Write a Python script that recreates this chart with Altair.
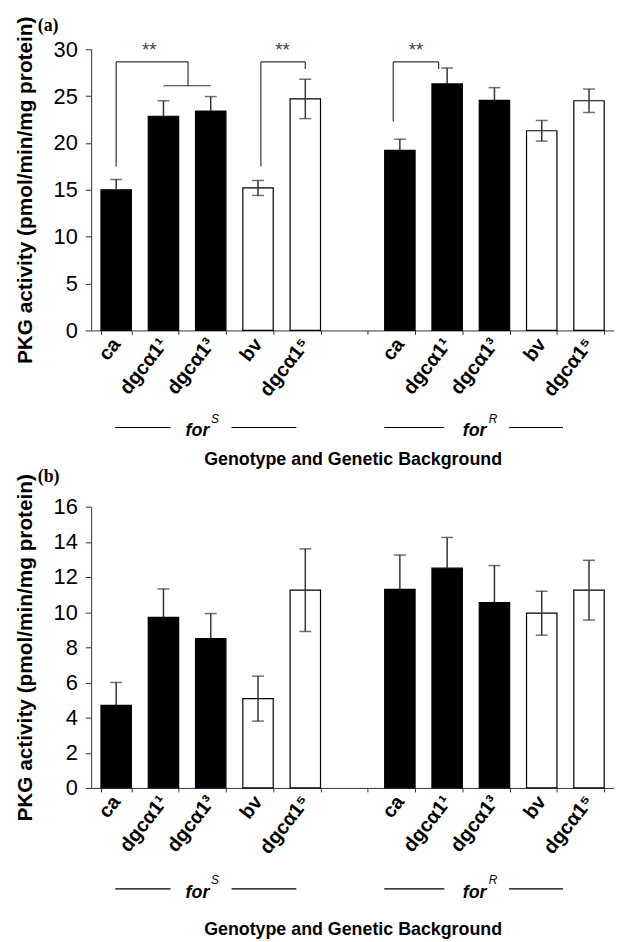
import altair as alt
import pandas as pd

# ---------------- data ----------------
genotypes = ["ca", "dgcα1¹", "dgcα1³", "bv", "dgcα1⁵"]
bar_fill = ["black", "black", "black", "white", "white"]
backgrounds = ["S", "R"]

# panel (a)
a_S_mean = [15.0, 22.85, 23.4, 15.2, 24.7]
a_S_err = [1.1, 1.65, 1.55, 0.8, 2.1]
a_R_mean = [19.2, 26.3, 24.55, 21.3, 24.5]
a_R_err = [1.2, 1.7, 1.35, 1.1, 1.25]

# panel (b)
b_S_mean = [4.7, 9.7, 8.5, 5.08, 11.25]
b_S_err = [1.3, 1.62, 1.42, 1.28, 2.35]
b_R_mean = [11.3, 12.5, 10.55, 9.94, 11.25]
b_R_err = [1.95, 1.75, 2.1, 1.25, 1.7]

y_title = "PKG activity (pmol/min/mg protein)"
x_title = "Genotype and Genetic Background"
a_ticks = [0, 5, 10, 15, 20, 25, 30]
b_ticks = [0, 2, 4, 6, 8, 10, 12, 14, 16]

# significance brackets of panel (a), in slot units
# (left, right, left foot, top, right foot, star position, sub-bar from, sub-bar to)
brackets = [
    (0.0, 1.52, 17.5, 28.65, 26.1, 0.70, 1.0, 2.0),
    (3.06, 4.0, 17.5, 28.65, 27.9, 3.52, None, None),
    (5.86, 6.82, 22.3, 28.65, 27.9, 6.34, None, None),
]
# background group labels: (text, sup, line1, line2, text pos, sup pos)
groups = [
    ("for", "S", (-0.02, 1.15), (2.44, 3.81), 1.72, 2.09),
    ("for", "R", (5.67, 6.94), (8.31, 9.45), 7.58, 7.97),
]

# ---------------- layout constants ----------------
W, H = 528, 284
PI, PO = 0.357, 0.207
slots = [g + "|S" for g in genotypes] + ["|gap"] + [g + "|R" for g in genotypes]
N = len(slots)
STEP = W / (N - PI + 2 * PO)
FONT = "Liberation Sans"


def slot(f):
    k = min(max(int(round(f)), 0), N - 1)
    return slots[k], (f - k) * STEP


def make_df(means_S, errs_S, means_R, errs_R):
    rows = []
    for bg, means, errs in (("S", means_S, errs_S), ("R", means_R, errs_R)):
        for g, m, e, f in zip(genotypes, means, errs, bar_fill):
            rows.append(dict(slot=g + "|" + bg, mean=m, hi=m + e,
                             lo=(m - e) if f == "white" else m, fill=f))
    return pd.DataFrame(rows)


def panel(df, ymax, ticks, label, with_brackets, title_y, group_y, title_offset):
    xscale = alt.Scale(domain=slots, paddingInner=PI, paddingOuter=PO)
    xaxis = alt.Axis(
        labelExpr="isValid(datum.value) ? split(datum.value, '|')[0] : ''",
        labelAngle=-52,
        labelAlign="right", labelBaseline="middle", labelFont=FONT,
        labelFontSize=20, labelFontWeight="bold", labelColor="black",
        labelPadding=6, tickBand="extent", tickSize=4, tickColor="#333",
        domainColor="#333", titleFont=FONT, titleFontSize=18,
        titleFontWeight="bold", titleColor="black", titleY=title_y,
        titleBaseline="alphabetic", labelOverlap=False,
    )
    yscale = alt.Scale(domain=[0, ymax], nice=False)
    yaxis = alt.Axis(
        values=ticks, grid=False, tickSize=6, tickColor="#333",
        domainColor="#333", labelFont=FONT, labelFontSize=22,
        labelColor="black", labelPadding=8, titleFont=FONT,
        titleFontSize=21, titleFontWeight="bold", titleColor="black",
        titlePadding=18,
    )

    def X(field="slot"):
        return alt.X(field, type="nominal", scale=xscale, axis=xaxis,
                     title=x_title)

    def Y(field):
        return alt.Y(field, type="quantitative", scale=yscale, axis=yaxis,
                     title=y_title)

    bars = alt.Chart(df).mark_bar(stroke="black", strokeWidth=1.2).encode(
        x=X(), y=Y("mean"), color=alt.Color("fill:N", scale=None))
    stems = alt.Chart(df).mark_rule(color="#333", strokeWidth=1.5).encode(
        x=X(), y=Y("hi"), y2="lo")
    caps_hi = alt.Chart(df).mark_tick(color="#333", size=12, thickness=1.5).encode(
        x=X(), y=Y("hi"))
    caps_lo = alt.Chart(df[df["fill"] == "white"]).mark_tick(
        color="#333", size=12, thickness=1.5).encode(x=X(), y=Y("lo"))
    layers = [bars, stems, caps_hi, caps_lo]

    if with_brackets:
        for (l, r, yl, yt, yr, sx, s0, s1) in brackets:
            kl, ol = slot(l)
            kr, orr = slot(r)
            layers.append(alt.Chart(pd.DataFrame([dict(slot=kl, a=yl, b=yt)]))
                          .mark_rule(color="#333", strokeWidth=1.2, xOffset=ol)
                          .encode(x=X(), y=Y("a"), y2="b"))
            layers.append(alt.Chart(pd.DataFrame([dict(slot=kr, a=yr, b=yt)]))
                          .mark_rule(color="#333", strokeWidth=1.2, xOffset=orr)
                          .encode(x=X(), y=Y("a"), y2="b"))
            layers.append(alt.Chart(pd.DataFrame([dict(slot=kl, slot2=kr, a=yt)]))
                          .mark_rule(color="#333", strokeWidth=1.2, xOffset=ol,
                                     x2Offset=orr)
                          .encode(x=X(), x2="slot2", y=Y("a")))
            if s0 is not None:
                k0, o0 = slot(s0)
                k1, o1 = slot(s1)
                layers.append(alt.Chart(pd.DataFrame([dict(slot=k0, slot2=k1, a=yr)]))
                              .mark_rule(color="#333", strokeWidth=1.2, xOffset=o0,
                                         x2Offset=o1)
                              .encode(x=X(), x2="slot2", y=Y("a")))
            ks, os_ = slot(sx)
            layers.append(alt.Chart(pd.DataFrame([dict(slot=ks, a=yt + 0.6, t="**")]))
                          .mark_text(font=FONT, fontSize=19, color="#444",
                                     baseline="alphabetic", xOffset=os_)
                          .encode(x=X(), y=Y("a"), text="t:N"))

    for (txt, sup, line1, line2, tpos, spos) in groups:
        for (p0, p1) in (line1, line2):
            k0, o0 = slot(p0)
            k1, o1 = slot(p1)
            layers.append(alt.Chart(pd.DataFrame([dict(slot=k0, slot2=k1)]))
                          .mark_rule(color="black", strokeWidth=1.2, xOffset=o0,
                                     x2Offset=o1)
                          .encode(x=X(), x2="slot2", y=alt.value(group_y)))
        kt, ot = slot(tpos)
        layers.append(alt.Chart(pd.DataFrame([dict(slot=kt, t=txt)]))
                      .mark_text(font=FONT, fontSize=18, fontWeight="bold",
                                 fontStyle="italic", color="black",
                                 baseline="alphabetic", xOffset=ot)
                      .encode(x=X(), y=alt.value(group_y + 9), text="t:N"))
        ks, os_ = slot(spos)
        layers.append(alt.Chart(pd.DataFrame([dict(slot=ks, t=sup)]))
                      .mark_text(font=FONT, fontSize=12, fontStyle="italic",
                                 color="black", baseline="alphabetic", xOffset=os_)
                      .encode(x=X(), y=alt.value(group_y - 5), text="t:N"))

    return alt.layer(*layers).properties(
        width=W, height=H,
        title=alt.TitleParams(label, anchor="start", frame="group",
                              font="Liberation Serif", fontSize=18,
                              fontWeight="bold", color="black", dx=-54,
                              offset=title_offset),
    )


top = panel(make_df(a_S_mean, a_S_err, a_R_mean, a_R_err), 30, a_ticks,
            "(a)", True, 135, 382, -19)
bottom = panel(make_df(b_S_mean, b_S_err, b_R_mean, b_R_err), 16, b_ticks,
               "(b)", False, 148, 386, -13)

chart = alt.vconcat(top, bottom, spacing=0).properties(
    padding={"left": 6, "right": 0, "top": 3, "bottom": 0}
).configure_view(stroke=None).configure_axis(labelLimit=0)

chart.save("out.html", embed_options={"renderer": "svg", "actions": False})
